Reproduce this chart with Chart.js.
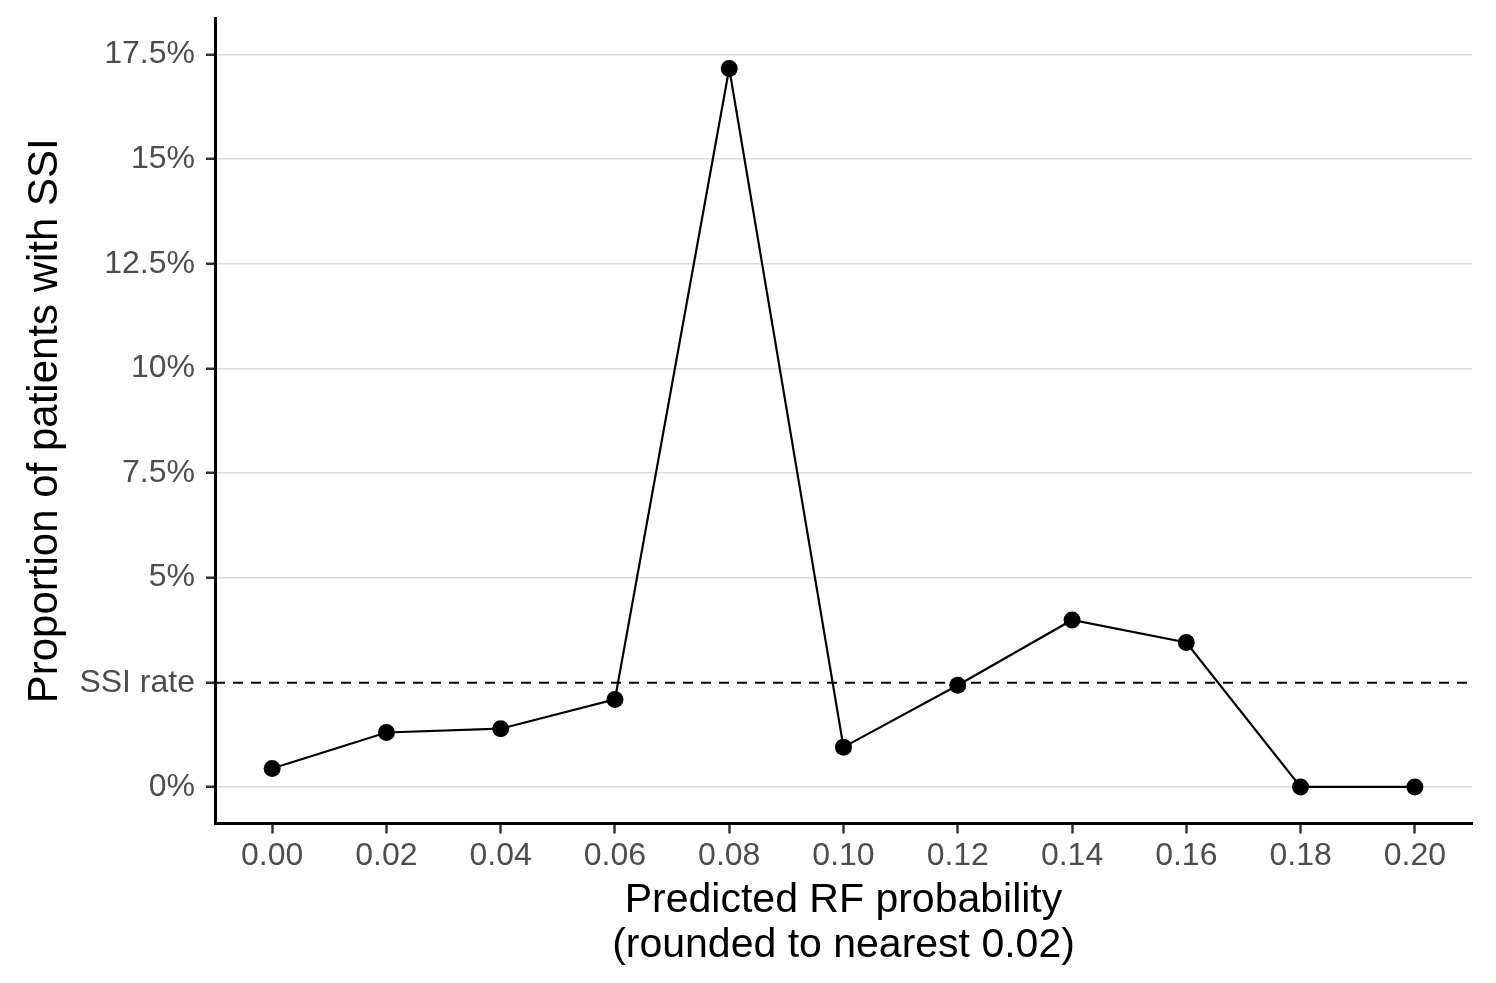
<!DOCTYPE html>
<html>
<head>
<meta charset="utf-8">
<script src="https://cdn.jsdelivr.net/npm/chart.js@4"></script>
<style>
  html, body { margin: 0; padding: 0; background: #ffffff; }
  #wrap { width: 1496px; height: 983px; }
</style>
</head>
<body>
<div id="wrap"><canvas id="c" width="1496" height="983"></canvas></div>
<script>
// ---- data ----
const categories = [0.00, 0.02, 0.04, 0.06, 0.08, 0.10, 0.12, 0.14, 0.16, 0.18, 0.20];
const ssiPercent = [0.44, 1.30, 1.39, 2.09, 17.17, 0.95, 2.43, 3.99, 3.45, 0.00, 0.00];
const ssiRate = 2.49;
const xTicks = [0.00, 0.02, 0.04, 0.06, 0.08, 0.10, 0.12, 0.14, 0.16, 0.18, 0.20];
const yTicks = [0, ssiRate, 5, 7.5, 10, 12.5, 15, 17.5];
const xRange = [-0.01, 0.21];
const yRange = [-0.875, 18.375];

const FONT = '"Liberation Sans", Arial, Helvetica, sans-serif';

const points = categories.map((x, i) => ({ x: x, y: ssiPercent[i] }));
const ssiLine = [{ x: xRange[0], y: ssiRate }, { x: xRange[1], y: ssiRate }];

new Chart(document.getElementById('c'), {
  type: 'line',
  data: {
    datasets: [
      {
        data: points,
        borderColor: '#000000',
        backgroundColor: '#000000',
        borderWidth: 2.2,
        pointRadius: 8.5,
        pointHoverRadius: 8.5,
        pointBorderWidth: 0,
        tension: 0,
        fill: false
      },
      {
        data: ssiLine,
        borderColor: '#000000',
        borderWidth: 2,
        borderDash: [10, 8],
        pointRadius: 0,
        tension: 0,
        fill: false
      }
    ]
  },
  options: {
    responsive: false,
    animation: false,
    devicePixelRatio: 1,
    layout: { padding: { top: 18, right: 24, left: 0, bottom: 0 } },
    plugins: { legend: { display: false }, tooltip: { enabled: false } },
    scales: {
      x: {
        type: 'linear',
        min: xRange[0],
        max: xRange[1],
        afterBuildTicks: (s) => { s.ticks = xTicks.map(v => ({ value: v })); },
        afterFit: (s) => { s.height = 159.5; s.paddingLeft = 0; s.paddingRight = 0; },
        border: { display: true, color: '#000000', width: 3 },
        grid: {
          drawOnChartArea: false,
          drawTicks: true,
          tickLength: 10,
          tickColor: '#333333',
          tickWidth: 2.5
        },
        ticks: {
          padding: 3,
          color: '#4d4d4d',
          font: { family: FONT, size: 32 },
          maxRotation: 0,
          autoSkip: false,
          callback: (v) => Number(v).toFixed(2)
        },
        title: {
          display: true,
          text: ['Predicted RF probability', '(rounded to nearest 0.02)'],
          color: '#000000',
          font: { family: FONT, size: 41, lineHeight: 1.1 },
          padding: { top: 0, bottom: 15 }
        }
      },
      y: {
        type: 'linear',
        min: yRange[0],
        max: yRange[1],
        afterBuildTicks: (s) => { s.ticks = yTicks.map(v => ({ value: v })); },
        afterFit: (s) => { s.width = 215; s.paddingTop = 0; s.paddingBottom = 0; },
        border: { display: true, color: '#000000', width: 3 },
        grid: {
          drawOnChartArea: true,
          drawTicks: true,
          tickLength: 9,
          lineWidth: 1.5,
          color: (ctx) => (ctx.tick && ctx.tick.value === ssiRate) ? 'rgba(0,0,0,0)' : '#dcdcdc',
          tickColor: '#333333',
          tickWidth: 2.5
        },
        ticks: {
          padding: 11,
          color: '#4d4d4d',
          font: { family: FONT, size: 32 },
          autoSkip: false,
          callback: (v) => (v === ssiRate ? 'SSI rate' : v + '%')
        },
        title: {
          display: true,
          text: 'Proportion of patients with SSI',
          color: '#000000',
          font: { family: FONT, size: 42, lineHeight: 1.1 },
          padding: { top: 22, bottom: 0 }
        }
      }
    }
  }
});
</script>
</body>
</html>
